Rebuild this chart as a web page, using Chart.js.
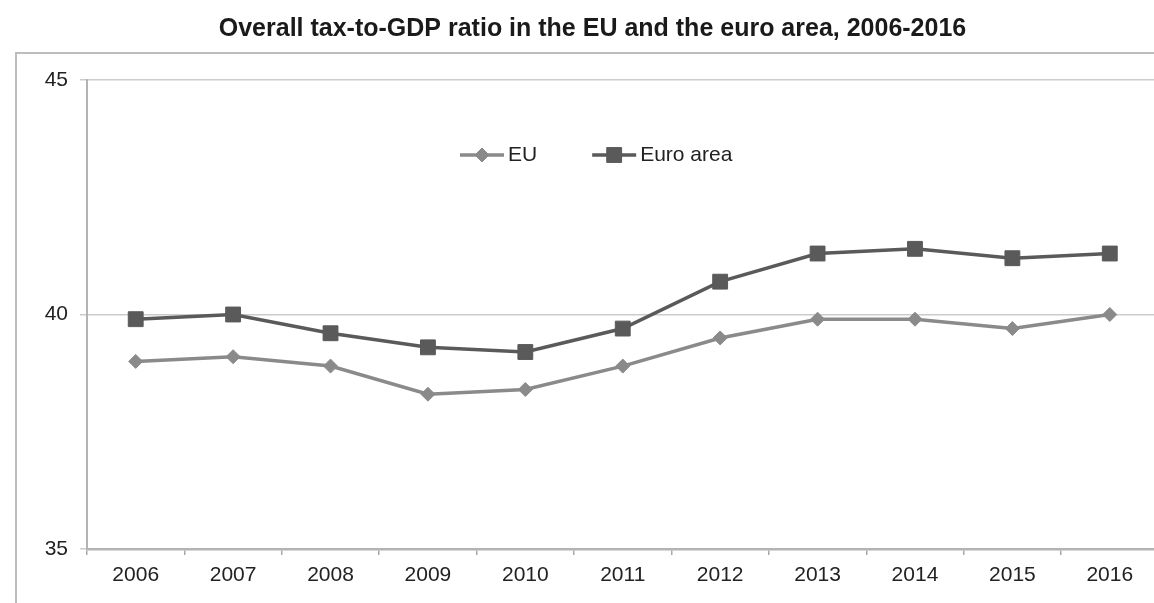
<!DOCTYPE html>
<html>
<head>
<meta charset="utf-8">
<title>Overall tax-to-GDP ratio</title>
<script src="https://cdn.jsdelivr.net/npm/chart.js@4.4.1/dist/chart.umd.min.js"></script>
<style>
  html, body { margin: 0; padding: 0; background: #fff; overflow: hidden; }
  #frame { position: absolute; left: 15px; top: 52px; width: 1200px; height: 600px; border: 2px solid #bdbdbd; }
  #wrap { position: absolute; left: 0; top: 0; width: 1170px; height: 603px; }
</style>
</head>
<body>
<div id="frame"></div>
<div id="wrap"><canvas id="chart"></canvas></div>
<script>
const years = ["2006", "2007", "2008", "2009", "2010", "2011", "2012", "2013", "2014", "2015", "2016"];
const euValues = [39.0, 39.1, 38.9, 38.3, 38.4, 38.9, 39.5, 39.9, 39.9, 39.7, 40.0];
const euroAreaValues = [39.9, 40.0, 39.6, 39.3, 39.2, 39.7, 40.7, 41.3, 41.4, 41.2, 41.3];
const yMin = 35;
const yMax = 45;
const yStep = 5;

const fontFamily = '"Liberation Sans", Arial, sans-serif';

// legend drawn inside the plot, line + marker + label
const insideLegend = {
  id: "insideLegend",
  afterDatasetsDraw(chart, args, opts) {
    const ctx = chart.ctx;
    const area = chart.chartArea;
    let x = area.left + opts.left;
    const y = area.top + opts.top;
    ctx.save();
    ctx.font = "21px " + fontFamily;
    ctx.textBaseline = "middle";
    ctx.textAlign = "left";
    chart.data.datasets.forEach((ds) => {
      ctx.strokeStyle = ds.borderColor;
      ctx.lineWidth = ds.borderWidth;
      ctx.beginPath();
      ctx.moveTo(x, y);
      ctx.lineTo(x + opts.lineLength, y);
      ctx.stroke();
      ctx.fillStyle = ds.backgroundColor;
      ctx.lineWidth = 1;
      Chart.helpers.drawPoint(ctx, { pointStyle: ds.pointStyle, radius: ds.pointRadius, borderWidth: 1, rotation: 0 }, x + opts.lineLength / 2, y);
      ctx.fillStyle = "#222";
      const tx = x + opts.lineLength + 4;
      ctx.fillText(ds.label, tx, y);
      x = tx + ctx.measureText(ds.label).width + opts.gap;
    });
    ctx.restore();
  }
};

window.addEventListener("load", function () {
  const data = {
    labels: years,
    datasets: [
      {
        label: "EU",
        data: euValues,
        borderColor: "#8a8a8a",
        backgroundColor: "#8a8a8a",
        borderWidth: 3.5,
        pointStyle: "rectRot",
        pointRadius: 7,
        pointBorderWidth: 1,
        tension: 0
      },
      {
        label: "Euro area",
        data: euroAreaValues,
        borderColor: "#5a5a5a",
        backgroundColor: "#5a5a5a",
        borderWidth: 3.5,
        pointStyle: "rect",
        pointRadius: 10.5,
        pointBorderWidth: 1,
        tension: 0
      }
    ]
  };

  const config = {
    type: "line",
    data,
    plugins: [insideLegend],
    options: {
      responsive: true,
      maintainAspectRatio: false,
      animation: false,
      devicePixelRatio: 1,
      layout: { padding: { left: 25, right: 10, top: 0, bottom: 0 } },
      plugins: {
        legend: { display: false },
        tooltip: { enabled: false },
        title: {
          display: true,
          text: "Overall tax-to-GDP ratio in the EU and the euro area, 2006-2016",
          color: "#1a1a1a",
          font: { family: fontFamily, size: 25, weight: "bold" },
          padding: { top: 14, bottom: 36 }
        },
        insideLegend: { left: 373, top: 75, lineLength: 44, gap: 55 }
      },
      scales: {
        x: {
          offset: true,
          afterFit: (scale) => { scale.height = 54; },
          grid: { drawOnChartArea: false, drawTicks: true, tickLength: 6, color: "#a8a8a8", lineWidth: 1.5, offset: true },
          border: { color: "#b3b3b3", width: 2.5 },
          ticks: { color: "#222", padding: 8, font: { family: fontFamily, size: 21 } }
        },
        y: {
          min: yMin,
          max: yMax,
          afterFit: (scale) => { scale.width = 62; },
          grid: { color: "#cbcbcb", lineWidth: 1.5, tickLength: 7 },
          border: { color: "#b3b3b3", width: 2 },
          ticks: { stepSize: yStep, color: "#222", padding: 12, font: { family: fontFamily, size: 21 } }
        }
      }
    }
  };

  new Chart(document.getElementById("chart"), config);
});
</script>
</body>
</html>
